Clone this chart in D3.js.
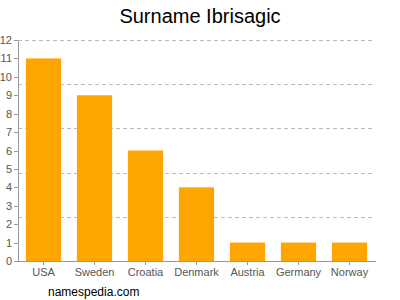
<!DOCTYPE html>
<html>
<head>
  <script src="https://cdnjs.cloudflare.com/ajax/libs/d3/7.8.5/d3.min.js"></script>
  <style>
    body { margin: 0; background: white; }
    svg { font-family: Arial, "Liberation Sans", sans-serif; }
    .grid line { stroke: #bbb; stroke-dasharray: 4,3; shape-rendering: crispEdges; }
    .axis path, .axis line { stroke: #999; shape-rendering: crispEdges; }
    .axis text { fill: #555; font-size: 11px; }
  </style>
</head>
<body>
<script>
  var countries = ["USA", "Sweden", "Croatia", "Denmark", "Austria", "Germany", "Norway"];
  var counts = [11, 9, 6, 4, 1, 1, 1];
  var yTicks = [0, 1, 2, 3, 4, 5, 6, 7, 8, 9, 10, 11, 12];
  var gridValues = [2.4, 4.8, 7.2, 9.6, 12];

  var plotLeft = 18, plotRight = 375, plotTop = 40, plotBottom = 261;

  var svg = d3.select("body").append("svg")
    .attr("width", 400)
    .attr("height", 300);

  var x = d3.scaleBand().domain(countries).range([plotLeft, plotRight]).paddingInner(0.31).paddingOuter(0.155);
  var y = d3.scaleLinear().domain([0, 12]).range([plotBottom, plotTop]);

  svg.append("g").attr("class", "grid")
    .selectAll("line")
    .data(gridValues)
    .enter()
    .append("line")
    .attr("x1", plotLeft)
    .attr("x2", plotRight)
    .attr("y1", function(d){ return Math.round(y(d)) + 0.5; })
    .attr("y2", function(d){ return Math.round(y(d)) + 0.5; });

  svg.append("g").selectAll("rect")
    .data(counts)
    .enter()
    .append("rect")
    .attr("x", function(d, i){ return x(countries[i]); })
    .attr("y", function(d){ return y(d); })
    .attr("width", x.bandwidth())
    .attr("height", function(d){ return plotBottom - y(d); })
    .attr("fill", "#ffa500");

  svg.append("g").attr("class", "axis")
    .attr("transform", "translate(" + plotLeft + ",0)")
    .call(d3.axisLeft(y).tickValues(yTicks).tickSize(4).tickPadding(2).tickSizeOuter(0));

  svg.append("g").attr("class", "axis")
    .attr("transform", "translate(0," + plotBottom + ")")
    .call(d3.axisBottom(x).tickSize(4).tickPadding(3).tickSizeOuter(0));

  svg.append("text")
    .attr("x", 200)
    .attr("y", 23)
    .attr("text-anchor", "middle")
    .style("font-size", "20px")
    .style("fill", "#000")
    .text("Surname Ibrisagic");

  svg.append("text")
    .attr("x", 48)
    .attr("y", 296)
    .style("font-size", "12px")
    .style("fill", "#000")
    .text("namespedia.com");
</script>
</body>
</html>
